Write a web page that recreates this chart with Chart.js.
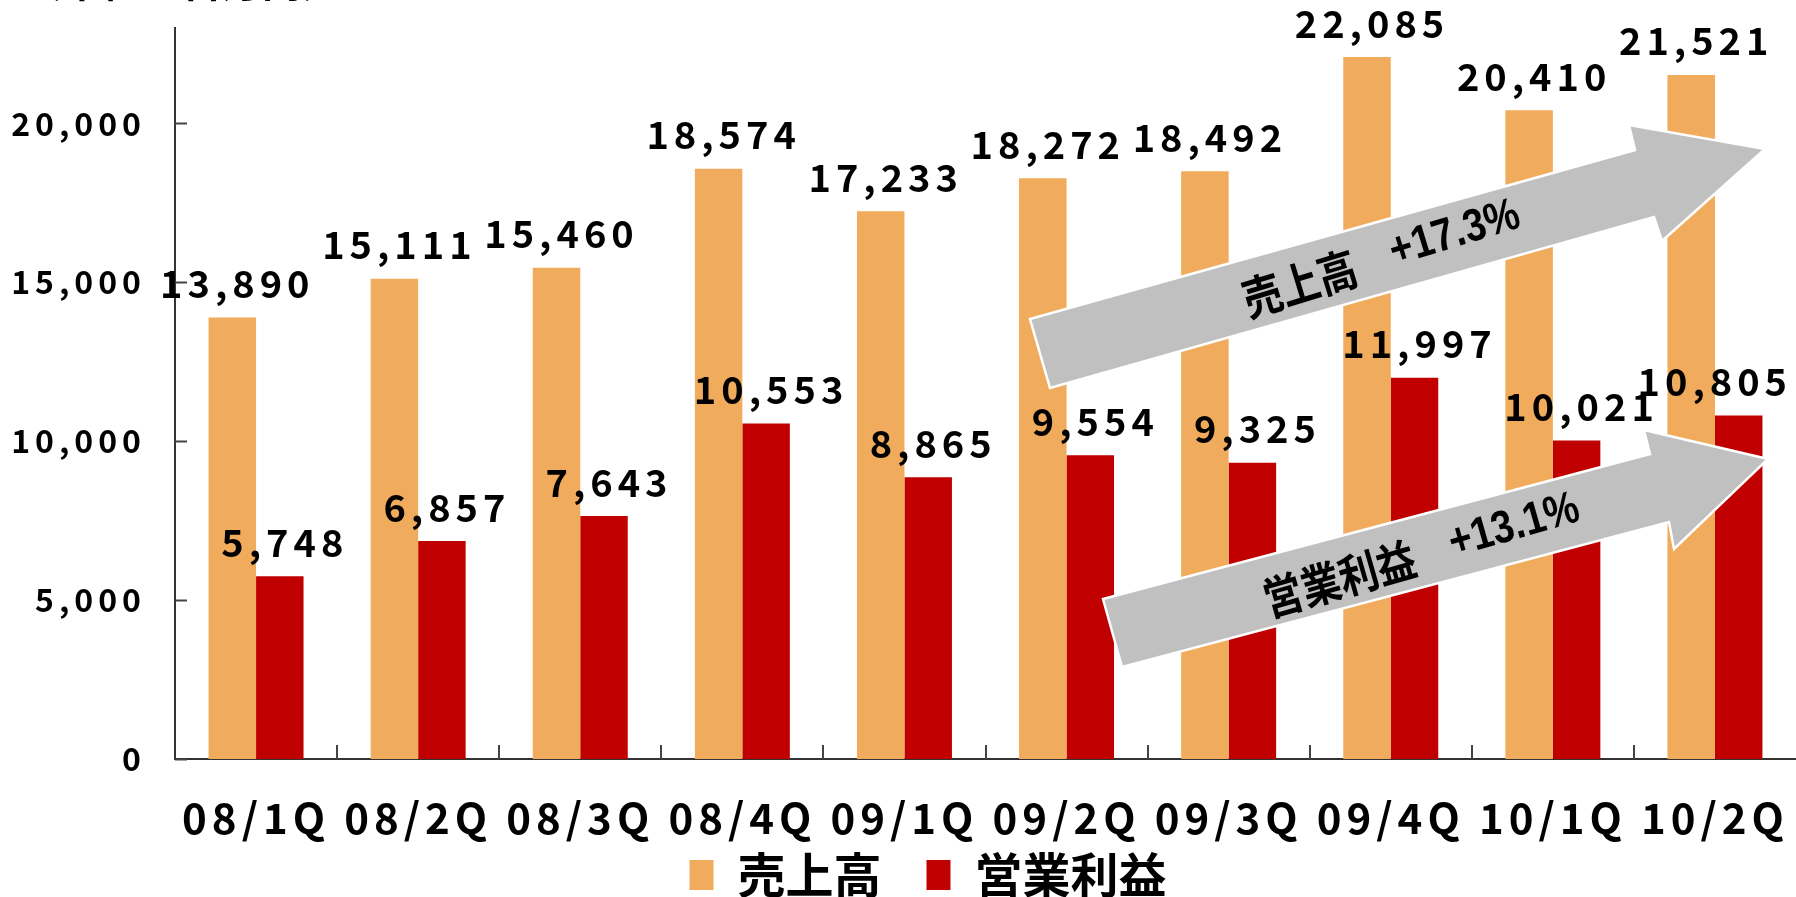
<!DOCTYPE html>
<html>
<head>
<meta charset="utf-8">
<script src="https://cdn.jsdelivr.net/npm/chart.js@4/dist/chart.umd.min.js"></script>
<style>
  html, body { margin: 0; padding: 0; background: #fff; }
  #wrap { width: 1796px; height: 897px; }
</style>
</head>
<body>
<div id="wrap"><canvas id="sales-chart" width="1796" height="897"></canvas></div>
<script>
// values
const quarters = ['08/1Q', '08/2Q', '08/3Q', '08/4Q', '09/1Q', '09/2Q', '09/3Q', '09/4Q', '10/1Q', '10/2Q'];
const salesValues = [13890, 15111, 15460, 18574, 17233, 18272, 18492, 22085, 20410, 21521];
const profitValues = [5748, 6857, 7643, 10553, 8865, 9554, 9325, 11997, 10021, 10805];
const yTicks = [0, 5000, 10000, 15000, 20000];
const seriesNames = ['売上高', '営業利益'];
const growthRates = ['+17.3%', '+13.1%'];
const unitNote = '（単位：百万円）';

const FONT = "'Noto Sans CJK JP', 'Noto Sans', sans-serif";

// grey growth arrows drawn over the bars (pixel outlines of the callouts)
const arrows = [
    { pts: [[1030, 319], [1635, 150], [1629, 125], [1765, 149], [1662, 241], [1654, 217], [1050, 388]],
      name: seriesNames[0], rate: growthRates[0], cx: 1373, cy: 259, angle: -17 },
    { pts: [[1103, 599], [1650, 454], [1644, 430], [1768, 459], [1674, 549], [1669, 522], [1122, 667]],
      name: seriesNames[1], rate: growthRates[1], cx: 1432, cy: 550, angle: -16 }
];

const extras = {
    id: 'extras',
    afterLayout(chart) {
        const lg = chart.legend;
        if (!lg) return;
        // legend sits a little right of centre and just under the quarter labels
        const h = lg.bottom - lg.top;
        lg.left += 30;
        lg.right += 30;
        lg.top = chart.chartArea.bottom + 47;
        lg.bottom = lg.top + h;
        if (!lg._noSpacing) {
            const draw = lg.draw;
            lg.draw = function() {
                const c = this.ctx;
                c.save();
                c.letterSpacing = '0px';
                draw.apply(this, arguments);
                c.restore();
            };
            lg._noSpacing = true;
        }
    },
    beforeDraw(chart) {
        chart.ctx.letterSpacing = '5px';
    },
    afterDatasetsDraw(chart) {
        const ctx = chart.ctx;
        const x = chart.scales.x, y = chart.scales.y;

        // inward tick marks
        ctx.save();
        ctx.strokeStyle = '#444';
        ctx.lineWidth = 2;
        ctx.beginPath();
        yTicks.forEach(function(v) {
            const py = Math.round(y.getPixelForValue(v)) + 0.5;
            ctx.moveTo(x.left, py);
            ctx.lineTo(x.left + 12, py);
        });
        for (let i = 1; i < quarters.length; i++) {
            const px = Math.round((x.getPixelForValue(i - 1) + x.getPixelForValue(i)) / 2);
            ctx.moveTo(px, y.bottom);
            ctx.lineTo(px, y.bottom - 14);
        }
        ctx.stroke();
        ctx.restore();

        // arrows
        arrows.forEach(function(a) {
            ctx.save();
            ctx.beginPath();
            a.pts.forEach(function(p, i) { i ? ctx.lineTo(p[0], p[1]) : ctx.moveTo(p[0], p[1]); });
            ctx.closePath();
            ctx.fillStyle = '#C0C0C0';
            ctx.fill();
            ctx.strokeStyle = '#fff';
            ctx.lineWidth = 2.5;
            ctx.stroke();
            ctx.translate(a.cx, a.cy);
            ctx.rotate(a.angle * Math.PI / 180);
            ctx.scale(0.85, 1);
            ctx.letterSpacing = '0px';
            ctx.fillStyle = '#000';
            ctx.textBaseline = 'middle';
            ctx.font = 'bold 46px ' + FONT;
            ctx.textAlign = 'right';
            ctx.fillText(a.name, -22, 2);
            ctx.font = "bold 46px 'Liberation Sans Narrow', 'Liberation Sans', sans-serif";
            ctx.textAlign = 'left';
            ctx.fillText(a.rate, 22, 0);
            ctx.restore();
        });

        // value labels, kept inside the canvas like the original
        ctx.save();
        ctx.letterSpacing = '5px';
        ctx.font = 'bold 38px ' + FONT;
        ctx.fillStyle = '#000';
        ctx.textAlign = 'center';
        ctx.textBaseline = 'middle';
        chart.data.datasets.forEach(function(ds, i) {
            chart.getDatasetMeta(i).data.forEach(function(bar, j) {
                const txt = ds.data[j].toLocaleString('en-US');
                const half = ctx.measureText(txt).width / 2;
                const lx = Math.min(bar.x + 5, chart.width - half - 4);
                ctx.fillText(txt, lx, bar.y - 34);
            });
        });
        ctx.restore();
    },
    afterDraw(chart) {
        // unit note, cut off at the top edge as in the original
        const ctx = chart.ctx;
        ctx.save();
        ctx.letterSpacing = '0px';
        ctx.font = 'bold 40px ' + FONT;
        ctx.fillStyle = '#000';
        ctx.textBaseline = 'alphabetic';
        ctx.fillText(unitNote, 22, -3);
        ctx.restore();
    }
};

const ctx = document.getElementById('sales-chart').getContext('2d');
window.salesChart = new Chart(ctx, {
    type: 'bar',
    data: {
        labels: quarters,
        datasets: [{
            label: seriesNames[0],
            data: salesValues,
            backgroundColor: '#F1AB5C',
            borderWidth: 0,
            categoryPercentage: 0.586,
            barPercentage: 1
        }, {
            label: seriesNames[1],
            data: profitValues,
            backgroundColor: '#C00000',
            borderWidth: 0,
            categoryPercentage: 0.586,
            barPercentage: 1
        }]
    },
    options: {
        responsive: false,
        animation: false,
        devicePixelRatio: 1,
        locale: 'en-US',
        layout: { padding: { top: 28, left: 0, right: 0, bottom: -53 } },
        plugins: {
            legend: {
                position: 'bottom',
                labels: {
                    boxWidth: 24,
                    boxHeight: 30,
                    padding: 45,
                    color: '#000',
                    font: { family: FONT, size: 48, weight: 'bold' }
                }
            },
            tooltip: { enabled: false }
        },
        scales: {
            x: {
                grid: { display: false },
                border: { color: '#333', width: 2 },
                ticks: {
                    color: '#000',
                    font: { family: FONT, size: 42, weight: 'bold' },
                    padding: 26,
                    autoSkip: false,
                    maxRotation: 0
                },
                afterFit: function(s) {
                    s.height = 88;
                    s.paddingLeft = 0;
                    s.paddingRight = 0;
                }
            },
            y: {
                min: 0,
                max: 23000,
                grid: { display: false },
                border: { color: '#333', width: 2 },
                ticks: {
                    color: '#000',
                    font: { family: FONT, size: 32, weight: 'bold' },
                    padding: 21
                },
                afterBuildTicks: function(s) { s.ticks = yTicks.map(function(v) { return { value: v }; }); },
                afterFit: function(s) {
                    s.width = 175;
                    s.paddingTop = 0;
                    s.paddingBottom = 0;
                }
            }
        }
    },
    plugins: [extras]
});
</script>
</body>
</html>
